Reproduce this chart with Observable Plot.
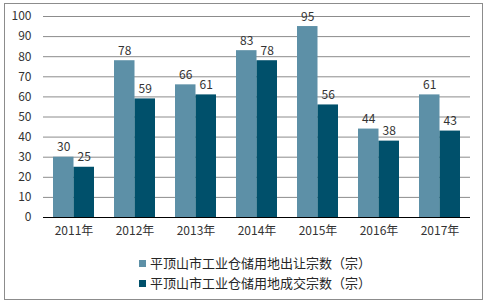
<!DOCTYPE html>
<html><head><meta charset="utf-8">
<script src="https://cdn.jsdelivr.net/npm/d3@7"></script>
<script src="https://cdn.jsdelivr.net/npm/@observablehq/plot@0.6"></script>
<style>
body{margin:0;background:#fff;font-family:"Noto Sans CJK SC","Liberation Sans",sans-serif;}
#wrap{position:relative;width:488px;height:305px;overflow:hidden;background:#fff;}
#frame{position:absolute;left:4px;top:3px;width:479px;height:297px;border:1px solid #8c8c8c;box-sizing:border-box;}
#chart{position:absolute;left:0;top:0;}
.leg{position:absolute;left:139px;font-size:13px;color:#262626;line-height:16px;white-space:nowrap;}
.leg span.sw{display:inline-block;width:7px;height:7px;margin-right:4px;vertical-align:1px;}
</style></head>
<body>
<div id="wrap"><div id="frame"></div><div id="chart"></div>
<div class="leg" id="l1" style="top:255px"></div>
<div class="leg" id="l2" style="top:275px"></div>
</div>
<script>
const years = ["2011年","2012年","2013年","2014年","2015年","2016年","2017年"];
const offered = [30,78,66,83,95,44,61];
const traded = [25,59,61,78,56,38,43];
const seriesNames = ["平顶山市工业仓储用地出让宗数（宗）","平顶山市工业仓储用地成交宗数（宗）"];
const colors = ["#5d90a7","#00506b"];
const yTicks = [0,10,20,30,40,50,60,70,80,90,100];

const d1 = years.map((y,i)=>({year:y, v:offered[i]}));
const d2 = years.map((y,i)=>({year:y, v:traded[i]}));

const chart = Plot.plot({
  width:488, height:245,
  marginTop:16, marginBottom:28, marginLeft:43, marginRight:18,
  style:{fontFamily:'"Noto Sans CJK SC","Liberation Sans",sans-serif', fontSize:"12px", color:"#333", background:"transparent"},
  x:{domain:years, padding:0, label:null, tickSize:0, tickPadding:9},
  y:{domain:[0,100], ticks:yTicks, label:null, tickSize:0, tickPadding:12},
  marks:[
    Plot.ruleY(yTicks.filter(t=>t>0), {stroke:"#8c8c8c", strokeWidth:1}),
    Plot.barY(d1, {x:"year", y:"v", fill:colors[0], insetLeft:10, insetRight:30.5}),
    Plot.barY(d2, {x:"year", y:"v", fill:colors[1], insetLeft:30.5, insetRight:10}),
    Plot.text(d1, {x:"year", y:"v", text:d=>String(d.v), dx:-10.25, dy:-6, lineAnchor:"bottom", fill:"#333"}),
    Plot.text(d2, {x:"year", y:"v", text:d=>String(d.v), dx:10.25, dy:-6, lineAnchor:"bottom", fill:"#333"}),
    Plot.ruleY([0], {stroke:"#000", strokeWidth:1})
  ]
});
document.getElementById("chart").appendChild(chart);
document.getElementById("l1").innerHTML = `<span class="sw" style="background:${colors[0]}"></span>${seriesNames[0]}`;
document.getElementById("l2").innerHTML = `<span class="sw" style="background:${colors[1]}"></span>${seriesNames[1]}`;
</script>
</body></html>
